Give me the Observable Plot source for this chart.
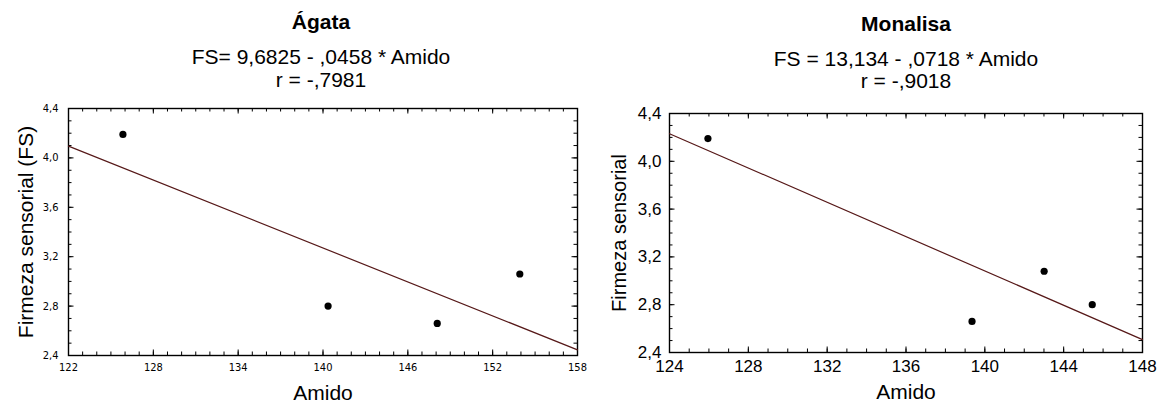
<!DOCTYPE html>
<html><head><meta charset="utf-8">
<script src="https://cdn.jsdelivr.net/npm/d3@7"></script>
<script src="https://cdn.jsdelivr.net/npm/@observablehq/plot@0.6"></script>
<style>
body{margin:0;background:#fff;}
#wrap{position:relative;width:1160px;height:407px;font-family:"Liberation Sans",Arial,sans-serif;color:#000;overflow:hidden;background:#fff;}
.t{position:absolute;width:500px;text-align:center;font-size:21px;line-height:24px;white-space:nowrap;}
.b{font-weight:bold;}
.panel{position:absolute;top:90px;}
.panel svg{overflow:visible;}
</style></head><body>
<div id="wrap">
  <div class="panel" id="left" style="left:0px"></div>
  <div class="panel" id="right" style="left:580px"></div>
  <div class="t b" style="left:71px;top:10px">Ágata</div>
  <div class="t" style="left:71px;top:45px">FS= 9,6825 - ,0458 * Amido</div>
  <div class="t" style="left:71px;top:68px">r = -,7981</div>
  <div class="t b" style="left:656px;top:12px">Monalisa</div>
  <div class="t" style="left:656px;top:47px">FS = 13,134 - ,0718 * Amido</div>
  <div class="t" style="left:656px;top:69px">r = -,9018</div>
</div>
<script>
// Ágata
const agataAmido = [125.85, 140.36, 148.08, 153.92];
const agataFS = [4.19, 2.80, 2.66, 3.06];
const agataLineAmido = [122, 158];
const agataLineFS = [4.095, 2.446];
const agataXTicks = [122, 128, 134, 140, 146, 152, 158];
// Monalisa
const monalisaAmido = [125.95, 139.35, 143.01, 145.45];
const monalisaFS = [4.19, 2.66, 3.08, 2.80];
const monalisaLineAmido = [124, 148];
const monalisaLineFS = [4.231, 2.508];
const monalisaXTicks = [124, 128, 132, 136, 140, 144, 148];
// shared
const yTicks = [2.4, 2.8, 3.2, 3.6, 4.0, 4.4];
const yDomain = [2.4, 4.4];

function panel(o) {
  const W = 580, H = 317;
  const fw = W - o.ml - o.mr, fh = H - o.mt - o.mb;
  const pts = o.xs.map((x, i) => ({x, y: o.ys[i]}));
  const ln = o.lx.map((x, i) => ({x, y: o.ly[i]}));
  const xMinor = d3.range(o.xDomain[0], o.xDomain[1] + 0.001, 1);
  const yMinor = d3.range(0, 21).map(i => +(2.4 + i * 0.1).toFixed(1));
  const minL = 3.5, majL = 5.5;
  const fmtY = d => d.toFixed(1).replace(".", ",");
  const big = "'Liberation Sans', Arial, sans-serif";
  return Plot.plot({
    width: W, height: H,
    marginTop: o.mt, marginBottom: o.mb, marginLeft: o.ml, marginRight: o.mr,
    x: {domain: o.xDomain},
    y: {domain: yDomain},
    style: {fontFamily: o.tickFont, fontSize: o.tickSize + "px", color: "#000", background: "none", overflow: "visible"},
    marks: [
      Plot.tickX(xMinor, {x: d => d, insetTop: fh - minL, stroke: "#000"}),
      Plot.tickX(xMinor, {x: d => d, insetBottom: fh - minL, stroke: "#000"}),
      Plot.tickX(o.xTicks, {x: d => d, insetTop: fh - majL, stroke: "#000"}),
      Plot.tickX(o.xTicks, {x: d => d, insetBottom: fh - majL, stroke: "#000"}),
      Plot.tickY(yMinor, {y: d => d, insetRight: fw - minL, stroke: "#000"}),
      Plot.tickY(yMinor, {y: d => d, insetLeft: fw - minL, stroke: "#000"}),
      Plot.tickY(yTicks, {y: d => d, insetRight: fw - majL, stroke: "#000"}),
      Plot.tickY(yTicks, {y: d => d, insetLeft: fw - majL, stroke: "#000"}),
      Plot.frame({stroke: "#000", strokeWidth: 1.4}),
      Plot.axisX(o.xTicks, {tickSize: 0, tickPadding: o.xPad, tickFormat: d => String(d), label: null, fontSize: o.tickSize, fontFamily: o.tickFont}),
      Plot.axisY(yTicks, {tickSize: 0, tickPadding: o.yPad, tickFormat: fmtY, label: null, fontSize: o.tickSize, fontFamily: o.tickFont}),
      Plot.line(ln, {x: "x", y: "y", stroke: "#561818", strokeWidth: 1.2}),
      Plot.dot(pts, {x: "x", y: "y", r: 3.6, fill: "#000", stroke: "none"}),
      Plot.text([o.ytitle], {frameAnchor: "left", textAnchor: "middle", dx: o.ytDx, rotate: -90, fontSize: o.ytSize, fontFamily: big}),
      Plot.text(["Amido"], {frameAnchor: "bottom", textAnchor: "middle", dy: o.xtDy, lineAnchor: "middle", fontSize: 21, fontFamily: big})
    ]
  });
}

document.getElementById("left").append(panel({
  ml: 68, mr: 3, mt: 18, mb: 52,
  xDomain: [122, 158], xTicks: agataXTicks,
  xs: agataAmido, ys: agataFS, lx: agataLineAmido, ly: agataLineFS,
  tickFont: "'Liberation Sans Narrow', 'DejaVu Sans Condensed', 'Liberation Sans', sans-serif", tickSize: 11,
  xPad: 8, yPad: 10, ytitle: "Firmeza sensorial (FS)", ytDx: -42, ytSize: 21, xtDy: 38
}));
document.getElementById("right").append(panel({
  ml: 89, mr: 18, mt: 23, mb: 55,
  xDomain: [124, 148], xTicks: monalisaXTicks,
  xs: monalisaAmido, ys: monalisaFS, lx: monalisaLineAmido, ly: monalisaLineFS,
  tickFont: "'Liberation Sans', Arial, sans-serif", tickSize: 17,
  xPad: 7, yPad: 8, ytitle: "Firmeza sensorial", ytDx: -50, ytSize: 20, xtDy: 40
}));
</script>
</body></html>
